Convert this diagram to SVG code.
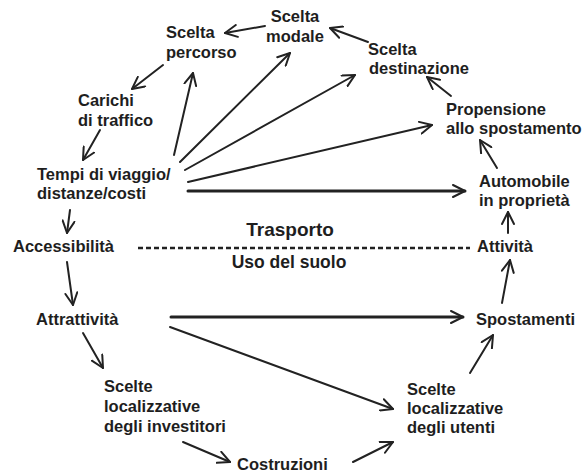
<svg xmlns="http://www.w3.org/2000/svg" width="586" height="474" viewBox="0 0 586 474">
  <style>
    text { font-family: "Liberation Sans", Arial, sans-serif; font-weight: bold; font-size: 16.5px; fill: #1e1e1e; }
    .big { font-size: 19px; }
    .mid { font-size: 17.5px; }
    .c { fill: none; stroke: #222; stroke-width: 2; stroke-linecap: round; marker-end: url(#chev); }
    .thick { stroke-width: 3; }
    .dash { fill: none; stroke: #222; stroke-width: 2.3; stroke-dasharray: 5 3; }
  </style>
  <defs>
    <marker id="chev" viewBox="0 0 14 14" refX="13" refY="7" markerWidth="14" markerHeight="14" markerUnits="userSpaceOnUse" orient="auto">
      <path d="M1,1 L13,7 L1,13" fill="none" stroke="#222" stroke-width="2" stroke-linecap="round" stroke-linejoin="round"/>
    </marker>
  </defs>
  <rect width="586" height="474" fill="#fff"/>

  <!-- connectors -->
  <g id="connectors">
    <line class="c" x1="265" y1="26" x2="225" y2="33"/>
    <line class="c" x1="368" y1="42" x2="330" y2="28"/>
    <line class="c" x1="451" y1="96" x2="427" y2="77"/>
    <line class="c" x1="163" y1="65" x2="132" y2="89"/>
    <line class="c" x1="100" y1="130" x2="83" y2="160"/>
    <line class="c" x1="70" y1="210" x2="67" y2="233"/>
    <line class="c" x1="67" y1="262" x2="73" y2="305"/>
    <line class="c" x1="83" y1="333" x2="103" y2="368"/>
    <line class="c" x1="183" y1="442" x2="230" y2="462"/>
    <line class="c" x1="353" y1="462" x2="393" y2="442"/>
    <line class="c" x1="170" y1="327" x2="393" y2="409"/>
    <line class="c thick" x1="171" y1="317" x2="463" y2="317"/>
    <line class="c" x1="470" y1="373" x2="493" y2="335"/>
    <line class="c" x1="502" y1="303" x2="510" y2="260"/>
    <line class="c" x1="508" y1="233" x2="508" y2="212"/>
    <line class="c" x1="497" y1="168" x2="480" y2="140"/>
    <line class="c" x1="174" y1="155" x2="193" y2="73"/>
    <line class="c" x1="180" y1="162" x2="290" y2="53"/>
    <line class="c" x1="185" y1="170" x2="355" y2="75"/>
    <line class="c" x1="188" y1="182" x2="432" y2="125"/>
    <line class="c thick" x1="188" y1="191" x2="465" y2="191"/>
    <line class="dash" x1="138" y1="248" x2="470" y2="248"/>
  </g>

  <!-- nodes -->
  <g id="scelta-percorso"><text x="166" y="38">Scelta</text><text x="166" y="58">percorso</text></g>
  <g id="scelta-modale"><text x="295" y="22" text-anchor="middle">Scelta</text><text x="295" y="42" text-anchor="middle">modale</text></g>
  <g id="scelta-destinazione"><text x="368" y="55">Scelta</text><text x="369" y="74">destinazione</text></g>
  <g id="propensione"><text x="446" y="115">Propensione</text><text x="446" y="134">allo spostamento</text></g>
  <g id="carichi"><text x="78" y="106">Carichi</text><text x="78" y="126">di traffico</text></g>
  <g id="tempi"><text x="37" y="180">Tempi di viaggio/</text><text x="37" y="199">distanze/costi</text></g>
  <g id="accessibilita"><text x="13" y="252">Accessibilità</text></g>
  <g id="automobile"><text x="479" y="187">Automobile</text><text x="479" y="206">in proprietà</text></g>
  <g id="attivita"><text x="477" y="252">Attività</text></g>
  <g id="spostamenti"><text x="476" y="325">Spostamenti</text></g>
  <g id="attrattivita"><text x="36" y="325">Attrattività</text></g>
  <g id="scelte-investitori"><text x="104" y="392">Scelte</text><text x="104" y="412">localizzative</text><text x="104" y="432">degli investitori</text></g>
  <g id="costruzioni"><text x="237" y="470">Costruzioni</text></g>
  <g id="scelte-utenti"><text x="407" y="395">Scelte</text><text x="407" y="414">localizzative</text><text x="407" y="433">degli utenti</text></g>

  <!-- divider labels -->
  <g id="trasporto"><text class="big" x="290" y="236" text-anchor="middle">Trasporto</text></g>
  <g id="uso-del-suolo"><text class="mid" x="289" y="268" text-anchor="middle">Uso del suolo</text></g>
</svg>
